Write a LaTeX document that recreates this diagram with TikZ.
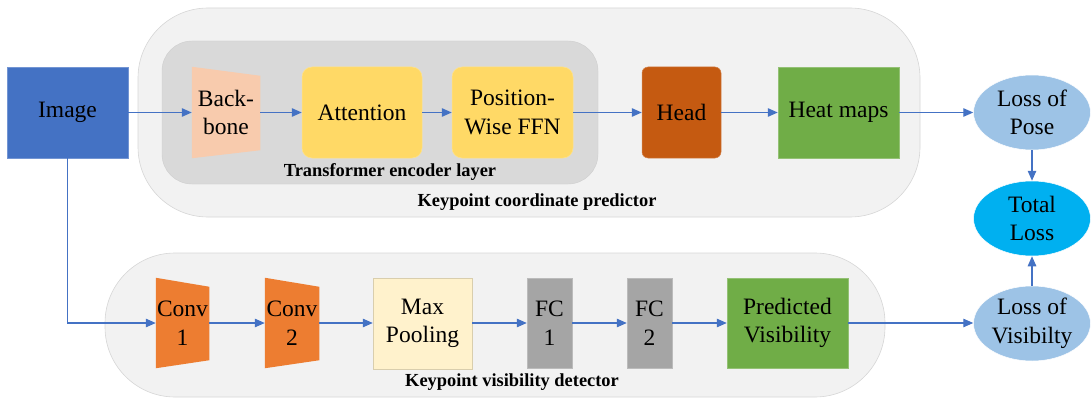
\documentclass[tikz,border=0pt]{standalone}
\usepackage{fontspec}
\setmainfont{Liberation Serif}
\newfontfamily\tnr{Liberation Serif}
\usetikzlibrary{shapes.geometric,arrows.meta,calc}
\definecolor{imgblue}{HTML}{4472C4}
\definecolor{arrowblue}{HTML}{4472C4}
\definecolor{bbpeach}{HTML}{F8CBAD}
\definecolor{attyellow}{HTML}{FFD966}
\definecolor{headbrown}{HTML}{C55A11}
\definecolor{heatgreen}{HTML}{70AD47}
\definecolor{poseblue}{HTML}{9DC3E6}
\definecolor{totalblue}{HTML}{00B0F0}
\definecolor{convorange}{HTML}{ED7D31}
\definecolor{poolcream}{HTML}{FFF2CC}
\definecolor{fcgray}{HTML}{A5A5A5}
\definecolor{outerfill}{HTML}{F2F2F2}
\definecolor{outerline}{HTML}{D6D6D6}
\definecolor{innerfill}{HTML}{D9D9D9}
\begin{document}
\begin{tikzpicture}[x=1pt,y=-1pt,
  blk/.style={rectangle, inner sep=0pt, align=center, font=\tnr\fontsize{23.5}{28.5}\selectfont, line width=0.5pt},
  filled/.style={blk, fill=#1, draw=#1!75!white},
  lossnode/.style={ellipse, inner sep=0pt, align=center, font=\tnr\fontsize{23.5}{28.5}\selectfont, minimum width=117pt, minimum height=75pt, fill=#1, draw=white, line width=0.5pt},
  lbl/.style={font=\tnr\fontsize{18.4}{20}\bfseries\selectfont, inner sep=0pt},
  arr/.style={draw=arrowblue, line width=1.3pt, -{Triangle[length=10pt,width=8.5pt]}},
  region/.style={fill=outerfill, draw=outerline, line width=0.6pt}
]
\useasboundingbox (0,0) rectangle (1091,401);

% group backgrounds
\draw[region, rounded corners=70pt] (138,8) rectangle (920,217);
\draw[fill=innerfill, draw=innerfill!95!black, line width=0.4pt, rounded corners=30pt] (162,41) rectangle (598,184);
\draw[region, rounded corners=70pt] (105,253) rectangle (885,397);

% labels
\node[lbl] (tel) at (390,172) {Transformer encoder layer};
\node[lbl] (kcp) at (537,202) {Keypoint coordinate predictor};
\node[lbl] (kvd) at (512,382) {Keypoint visibility detector};

% top row
\node[filled=imgblue, minimum width=121pt, minimum height=91pt] (img) at (67.5,112.5) {Image};
\node[blk, minimum width=68pt, minimum height=91pt] (bb) at (226,112.5) {};
\fill[bbpeach] (bb.north west) -- ($(bb.north east)+(0,9)$) -- ($(bb.south east)+(0,-8)$) -- (bb.south west) -- cycle;
\node[blk] at (bb.center) {Back-\\bone};
\node[filled=attyellow, rounded corners=10pt, minimum width=120pt, minimum height=91pt] (att) at (362,112.5) {Attention};
\node[filled=attyellow, rounded corners=10pt, minimum width=121pt, minimum height=91pt] (ffn) at (512.5,112.5) {Position-\\Wise FFN};
\node[filled=headbrown, rounded corners=6pt, minimum width=79pt, minimum height=91pt] (head) at (681.5,112.5) {Head};
\node[filled=heatgreen, minimum width=121pt, minimum height=91pt] (heat) at (838.5,112.5) {Heat maps};

% losses
\node[lossnode=poseblue] (lpose) at (1032,112.5) {Loss of\\Pose};
\node[lossnode=totalblue] (ltot) at (1032,218.5) {Total\\Loss};
\node[lossnode=poseblue] (lvis) at (1032,323.5) {Loss of\\Visibilty};

% bottom row
\node[blk, minimum width=53pt, minimum height=90pt] (c1) at (182.5,323) {};
\fill[convorange] (c1.north west) -- ($(c1.north east)+(0,9)$) -- ($(c1.south east)+(0,-8)$) -- (c1.south west) -- cycle;
\node[blk] at (c1.center) {Conv\\1};
\node[blk, minimum width=54pt, minimum height=90pt] (c2) at (292,323) {};
\fill[convorange] (c2.north west) -- ($(c2.north east)+(0,9)$) -- ($(c2.south east)+(0,-8)$) -- (c2.south west) -- cycle;
\node[blk] at (c2.center) {Conv\\2};
\node[filled=poolcream, draw=poolcream!85!black, minimum width=99pt, minimum height=91pt] (pool) at (422.5,323.5) {Max\\Pooling};
\node[filled=fcgray, minimum width=45pt, minimum height=90pt] (fc1) at (549.5,323) {FC\\1};
\node[filled=fcgray, minimum width=45pt, minimum height=90pt] (fc2) at (649.5,323) {FC\\2};
\node[filled=heatgreen, minimum width=121pt, minimum height=90pt] (pred) at (787.5,323) {Predicted\\Visibility};

% connectors
\draw[arr] (img.east) -- (bb.west);
\draw[arr] (bb.east) -- (att.west);
\draw[arr] (att.east) -- (ffn.west);
\draw[arr] (ffn.east) -- (head.west);
\draw[arr] (head.east) -- (heat.west);
\draw[arr] (heat.east) -- (lpose.west);
\draw[arr] (lpose.south) -- (ltot.north);
\draw[arr] (lvis.north) -- (ltot.south);
\draw[arr] (img.south) |- (c1.west);
\draw[arr] (c1.east) -- (c2.west);
\draw[arr] (c2.east) -- (pool.west |- c2.east);
\draw[arr] (pool.east |- fc1.west) -- (fc1.west);
\draw[arr] (fc1.east) -- (fc2.west);
\draw[arr] (fc2.east) -- (pred.west);
\draw[arr] (pred.east) -- (lvis.west |- pred.east);
\end{tikzpicture}
\end{document}
